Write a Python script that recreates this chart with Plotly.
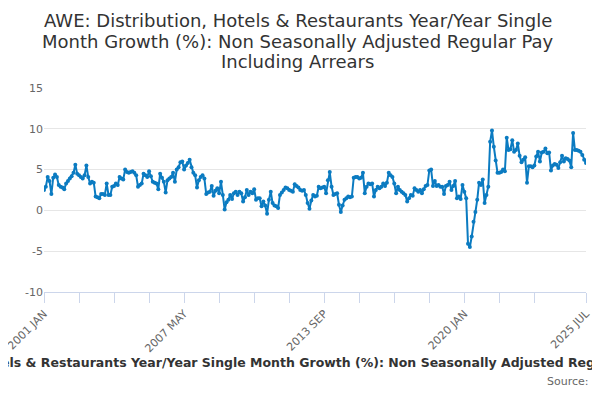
import plotly.graph_objects as go

# AWE Distribution, Hotels & Restaurants, y/y single month growth (%), monthly 2001 JAN - 2025 JUL
v2001 = [2.5, 2.9, 4.1, 3.6, 2.0, 4.0, 4.4, 4.1, 3.1, 2.9, 2.8, 2.6]
v2002 = [3.3, 3.6, 3.9, 4.2, 4.6, 5.6, 4.5, 4.3, 4.1, 3.9, 4.3, 5.5]
v2003 = [4.1, 3.3, 3.5, 3.4, 1.7, 1.6, 1.5, 2.0, 2.0, 1.9, 3.3, 1.9]
v2004 = [1.9, 2.9, 3.0, 3.3, 3.1, 4.1, 3.9, 3.8, 5.0, 4.7, 4.6, 4.7]
v2005 = [4.8, 4.6, 4.3, 2.9, 3.1, 3.3, 4.5, 4.3, 4.1, 4.8, 4.2, 3.5]
v2006 = [3.4, 3.3, 2.6, 4.5, 4.0, 3.5, 2.2, 3.7, 3.9, 4.1, 4.6, 3.5]
v2007 = [5.0, 5.3, 5.9, 6.0, 5.0, 5.5, 5.8, 6.2, 5.3, 4.6, 4.3, 2.8]
v2008 = [3.7, 4.1, 4.3, 3.9, 2.0, 2.2, 2.3, 3.0, 1.8, 2.4, 2.7, 2.1]
v2009 = [3.5, 1.9, 0.1, 1.0, 1.3, 1.9, 1.4, 2.1, 2.3, 1.9, 2.3, 2.1]
v2010 = [1.1, 1.6, 2.5, 1.9, 2.3, 2.1, 2.6, 1.3, 1.5, 1.5, 0.5, 1.1]
v2011 = [0.6, -0.4, 1.3, 2.3, 0.9, 0.6, 0.5, 0.3, 1.9, 2.2, 2.5, 2.8]
v2012 = [2.7, 2.5, 2.4, 2.3, 3.2, 3.0, 2.8, 2.5, 2.4, 2.5, 1.9, 0.9]
v2013 = [0.2, 1.2, 1.9, 1.7, 1.8, 2.9, 2.7, 2.8, 2.9, 2.1, 3.7, 4.7]
v2014 = [2.9, 1.9, 2.0, 2.1, 0.7, -0.2, 0.6, 1.3, 1.5, 1.7, 1.6, 1.7]
v2015 = [4.0, 4.1, 4.1, 3.9, 4.0, 4.6, 2.1, 2.9, 3.3, 3.2, 3.3, 1.7]
v2016 = [2.5, 2.9, 2.7, 2.9, 3.3, 3.0, 3.4, 4.6, 4.3, 4.1, 3.3, 2.1]
v2017 = [2.9, 2.5, 2.3, 2.1, 1.9, 1.1, 1.5, 1.9, 1.8, 2.7, 2.5, 2.3]
v2018 = [2.5, 2.1, 2.6, 3.0, 3.1, 4.9, 5.0, 3.0, 3.6, 3.0, 3.1, 2.9]
v2019 = [2.9, 2.0, 3.0, 3.1, 3.5, 2.5, 3.0, 3.6, 1.5, 1.7, 1.4, 3.1]
v2020 = [2.3, 1.5, -4.1, -4.5, -3.2, -1.4, -0.2, 1.3, 3.4, 3.1, 3.8, 0.9]
v2021 = [1.9, 2.9, 8.4, 9.8, 7.8, 6.1, 4.6, 4.6, 4.7, 5.0, 4.8, 8.9]
v2022 = [7.4, 7.5, 8.6, 7.2, 7.4, 8.2, 6.7, 5.9, 6.2, 6.5, 3.4, 5.4]
v2023 = [5.4, 5.3, 5.5, 6.6, 7.2, 6.0, 7.1, 7.2, 7.6, 7.0, 7.1, 4.9]
v2024 = [5.5, 5.7, 5.6, 5.2, 5.9, 6.7, 6.0, 6.4, 6.3, 6.1, 5.3, 9.5]
v2025 = [7.4, 7.4, 7.3, 7.2, 6.8, 6.2, 5.8]

values = (v2001 + v2002 + v2003 + v2004 + v2005 + v2006 + v2007 + v2008 + v2009
          + v2010 + v2011 + v2012 + v2013 + v2014 + v2015 + v2016 + v2017 + v2018
          + v2019 + v2020 + v2021 + v2022 + v2023 + v2024 + v2025)

month_names = ["JAN", "FEB", "MAR", "APR", "MAY", "JUN",
               "JUL", "AUG", "SEP", "OCT", "NOV", "DEC"]
months = [f"{y} {m}" for y in range(2001, 2026) for m in month_names][:len(values)]

# tick every 19 months, label every 4th tick, plus the last month
tick_idx = list(range(0, 270, 19)) + [len(months) - 1]
tick_text = [months[i] if (i % 76 == 0 or i == len(months) - 1) else "" for i in tick_idx]

y_ticks = [-10, -5, 0, 5, 10, 15]
y_text = ["-10", "-5", "0", "5", "10", "15"]

title_lines = ["AWE: Distribution, Hotels & Restaurants Year/Year Single",
               "Month Growth (%): Non Seasonally Adjusted Regular Pay",
               "Including Arrears"]
series_name = ("AWE: Distribution, Hotels & Restaurants Year/Year Single Month Growth (%): "
               "Non Seasonally Adjusted Regular Pay Including Arrears")

fig = go.Figure(go.Scatter(
    x=months, y=values, mode="lines+markers",
    line=dict(color="#0b7bc1", width=2),
    marker=dict(color="#0b7bc1", size=4),
    name=series_name,
))

# title lines placed one by one to get the tighter line spacing
title_y = [1.333, 1.230, 1.132]
annotations = [
    dict(text=t, xref="paper", yref="paper", x=0.468, y=ty,
         xanchor="center", yanchor="middle", showarrow=False,
         font=dict(size=18, color="#333333"))
    for t, ty in zip(title_lines, title_y)
]
annotations.append(dict(text="<b>" + series_name + "</b>", xref="paper", yref="paper",
                        x=0.492, y=-0.348, xanchor="center", yanchor="middle",
                        showarrow=False, font=dict(size=12.5, color="#333333")))
annotations.append(dict(text="Source:", xref="paper", yref="paper",
                        x=1.009, y=-0.441, xanchor="right", yanchor="middle",
                        showarrow=False, font=dict(size=11, color="#666666")))

# the page body adds an 8px margin, so the figure is sized 592x392
fig.update_layout(
    width=592, height=392,
    margin=dict(l=35.5, r=14.2, t=80, b=108, autoexpand=False),
    paper_bgcolor="white", plot_bgcolor="white",
    showlegend=False,
    font=dict(family="DejaVu Sans", color="#666666"),
    xaxis=dict(
        type="category", range=[0, len(months) - 1], automargin=False,
        tickmode="array", tickvals=[months[i] for i in tick_idx], ticktext=tick_text,
        tickangle=-45, ticks="outside", ticklen=10, tickcolor="#ccd6eb",
        showline=True, linecolor="#ccd6eb", showgrid=False, zeroline=False,
        tickfont=dict(size=11, color="#666666"),
    ),
    yaxis=dict(
        range=[-10, 15], tickmode="array", tickvals=y_ticks, ticktext=y_text,
        automargin=False,
        showgrid=True, gridcolor="#e6e6e6", zeroline=False, showline=False,
        tickfont=dict(size=11, color="#666666"),
    ),
    annotations=annotations,
)

fig.write_html("out.html")
